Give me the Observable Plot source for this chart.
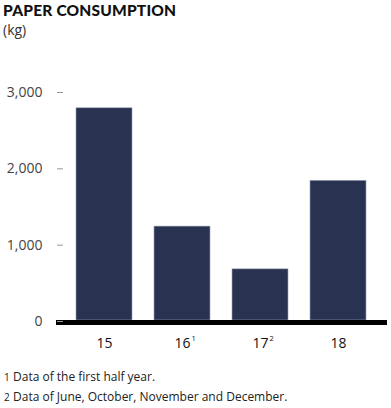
<!DOCTYPE html>
<html>
<head>
<meta charset="utf-8">
<script src="https://cdn.jsdelivr.net/npm/d3@7"></script>
<script src="https://cdn.jsdelivr.net/npm/@observablehq/plot@0.6"></script>
<style>
  html, body { margin: 0; padding: 0; background: #fff; }
  body { width: 391px; height: 408px; overflow: hidden; font-family: "Open Sans", sans-serif; color: #222; }
  #head { height: 50px; padding-left: 3px; box-sizing: border-box; }
  #title { font-family: Lato, sans-serif; font-weight: 900; font-size: 15.5px; line-height: 20px; letter-spacing: 0.2px; color: #111; }
  #unit { font-size: 14px; line-height: 20px; color: #333; }
  #notes { padding-top: 12px; font-size: 12px; line-height: 19px; color: #222; }
  #notes .n { display: inline-block; width: 9px; padding-left: 4px; font-size: 10px; box-sizing: content-box; }
  svg { display: block; }
</style>
</head>
<body>
<div id="head">
  <div id="title">PAPER CONSUMPTION</div>
  <div id="unit">(kg)</div>
</div>
<div id="chart"></div>
<div id="notes"></div>
<script>
const years = ["15", "16", "17", "18"];
const notes = ["", "1", "2", ""];
const consumption = [2780, 1230, 670, 1830];
const yTicks = [0, 1000, 2000, 3000];
const footnotes = ["Data of the first half year.", "Data of June, October, November and December."];

const data = years.map((y, i) => ({year: y, note: notes[i], value: consumption[i]}));

const chart = Plot.plot({
  width: 391,
  height: 305,
  marginTop: 41,
  marginBottom: 35,
  marginLeft: 56,
  marginRight: 4,
  style: {fontFamily: "Open Sans, sans-serif", background: "#fff", color: "#222"},
  x: {domain: years, paddingInner: 0.28, paddingOuter: 0.245, label: null},
  y: {domain: [0, 3000], label: null},
  marks: [
    Plot.barY(data, {x: "year", y: "value", fill: "#293351", stroke: "#9aa2b8", strokeWidth: 0.6}),
    Plot.ruleY([0], {stroke: "#000", strokeWidth: 5, dy: 2}),
    Plot.axisY(yTicks, {anchor: "left", tickSize: 6, dx: 7, tickPadding: 15, stroke: "#999", fontSize: 14, fill: "#444", tickFormat: d3.format(","), dy: 1}),
    Plot.axisX({tickSize: 0, tickPadding: 18, fontSize: 14, fill: "#111"}),
    Plot.text(data.filter(d => d.note), {x: "year", text: "note", frameAnchor: "bottom", dy: 15, dx: 9, textAnchor: "start", lineAnchor: "top", fontSize: 7.5, fill: "#111"})
  ]
});
document.getElementById("chart").append(chart);

const notesDiv = document.getElementById("notes");
footnotes.forEach((t, i) => {
  const line = document.createElement("div");
  const n = document.createElement("span");
  n.className = "n";
  n.textContent = String(i + 1);
  line.append(n, document.createTextNode(t));
  notesDiv.append(line);
});
</script>
</body>
</html>
